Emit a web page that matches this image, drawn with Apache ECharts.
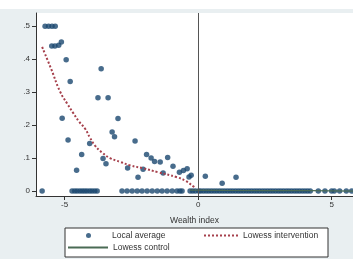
<!DOCTYPE html>
<html>
<head>
<meta charset="utf-8">
<script src="https://cdn.jsdelivr.net/npm/echarts@6/dist/echarts.min.js"></script>
<style>
  html, body { margin: 0; padding: 0; background: #e9eff1; }
  #main { width: 353px; height: 259px; }
</style>
</head>
<body>
<div id="main"></div>
<script>
// local averages above zero (wealth index, share)
var avgX = [-5.73, -5.6, -5.47, -5.35, -5.48, -5.36, -5.22, -5.12, -4.94, -4.79, -3.63,
  -3.75, -3.37, -5.09, -3.0, -4.87, -4.36, -4.55, -4.06, -3.56, -3.45, -3.22, -3.13,
  -2.36, -2.64, -2.25, -2.06, -1.93, -1.76, -1.63, -1.42, -1.31, -1.14, -0.94, -0.7,
  -0.55, -0.41, -0.34, -0.26, 0.27, 0.9, 1.42];
var avgY = [0.5, 0.5, 0.5, 0.5, 0.44, 0.44, 0.442, 0.452, 0.398, 0.332, 0.371,
  0.283, 0.283, 0.221, 0.22, 0.155, 0.111, 0.063, 0.144, 0.099, 0.083, 0.179, 0.165,
  0.152, 0.07, 0.042, 0.066, 0.111, 0.1, 0.09, 0.088, 0.055, 0.102, 0.075, 0.057,
  0.062, 0.068, 0.043, 0.048, 0.045, 0.024, 0.042];

// local averages sitting on zero
var zeroX = [-5.84, -4.72, -4.62, -4.53, -4.43, -4.34, -4.25, -4.16, -4.06, -3.97, -3.87, -3.78,
  -2.85, -2.66, -2.47, -2.28, -2.1, -1.91, -1.72, -1.53, -1.35, -1.16, -0.97, -0.79, -0.68, -0.6,
  -0.3, -0.2, -0.1, 0.02, 0.1, 0.2, 0.3, 0.4, 0.5, 0.6, 0.7, 0.8, 0.9, 1.0, 1.1, 1.2, 1.3,
  1.4, 1.5, 1.6, 1.7, 1.8, 1.9, 2.0, 2.1, 2.2, 2.3, 2.4, 2.5, 2.6, 2.7, 2.8, 2.9, 3.0, 3.1,
  3.2, 3.3, 3.4, 3.5, 3.6, 3.7, 3.8, 3.9, 4.0, 4.1, 4.2, 4.5, 4.75, 5.0, 5.1, 5.3, 5.55, 5.75];

// lowess intervention curve
var lowIntX = [-5.84, -5.5, -5.17, -4.9, -4.68, -4.45, -4.23, -4.05, -3.86, -3.6, -3.3,
  -2.9, -2.55, -2.06, -1.5, -0.79, -0.45, -0.19, -0.1];
var lowIntY = [0.437, 0.37, 0.302, 0.265, 0.237, 0.21, 0.189, 0.162, 0.138, 0.117, 0.1,
  0.088, 0.078, 0.069, 0.057, 0.042, 0.03, 0.015, 0.01];

// lowess control curve
var lowCtlX = [-0.3, 1.0, 2.5, 4.2, 5.8];
var lowCtlY = [0.003, 0.002, 0.001, 0.001, 0.0];

var yTicks = [0, 0.1, 0.2, 0.3, 0.4, 0.5];
var xTicks = [-5, 0, 5];

var avgData = [];
for (var i = 0; i < avgX.length; i++) avgData.push([avgX[i], avgY[i]]);
for (var j = 0; j < zeroX.length; j++) avgData.push([zeroX[j], 0]);
var intData = lowIntX.map(function (x, k) { return [x, lowIntY[k]]; });
var ctlData = lowCtlX.map(function (x, k) { return [x, lowCtlY[k]]; });

var chartDom = document.getElementById('main');
var myChart = echarts.init(chartDom);
var option;
var font = '"Liberation Sans", Arial, sans-serif';
var legendText = { fontSize: 8.5, color: '#333', fontFamily: font };

option = {
  backgroundColor: '#e9eff1',
  animation: false,
  textStyle: { fontFamily: font },
  graphic: [
    { type: 'rect', shape: { x: 0, y: 0, width: 353, height: 9 }, style: { fill: '#fff' }, silent: true },
    { type: 'rect', shape: { x: 65, y: 228, width: 263, height: 29 }, style: { fill: '#fff', stroke: '#333', lineWidth: 1 }, silent: true, z: -1 }
  ],
  grid: { left: 36, top: 13, right: 0, bottom: 63, show: true, backgroundColor: '#fff', borderWidth: 0 },
  legend: [
    { data: [{ name: 'Local average', icon: 'circle' }], left: 86, top: 231, padding: 0, itemWidth: 5, itemHeight: 5,
      textStyle: Object.assign({ padding: [0, 0, 0, 16] }, legendText) },
    { data: ['Lowess intervention'], left: 203, top: 231, padding: 0, itemWidth: 34, itemHeight: 5,
      itemStyle: { opacity: 0 }, textStyle: legendText },
    { data: ['Lowess control'], left: 67, top: 243, padding: 0, itemWidth: 40, itemHeight: 5,
      itemStyle: { opacity: 0 }, textStyle: legendText }
  ],
  xAxis: {
    type: 'value', min: -6.07, max: 5.8,
    name: 'Wealth index', nameLocation: 'middle', nameGap: 20,
    nameTextStyle: { fontSize: 8.5, color: '#333' },
    splitLine: { show: false },
    axisLine: { onZero: false, lineStyle: { color: '#333', width: 1 } },
    axisTick: { customValues: xTicks, length: 4, lineStyle: { color: '#333' } },
    axisLabel: { customValues: xTicks, fontSize: 8, color: '#333', margin: 5 }
  },
  yAxis: {
    type: 'value', min: -0.015, max: 0.54,
    splitLine: { show: false },
    axisLine: { show: true, onZero: false, lineStyle: { color: '#333', width: 1 } },
    axisTick: { show: true, customValues: yTicks, length: 4, lineStyle: { color: '#333' } },
    axisLabel: {
      customValues: yTicks, fontSize: 8, color: '#333', margin: 6,
      formatter: function (v) { return v === 0 ? '0' : String(v).replace('0.', '.'); }
    }
  },
  series: [
    {
      name: 'Local average', type: 'scatter', data: avgData, symbolSize: 5.5,
      itemStyle: { color: '#1a476f' },
      markLine: {
        silent: true, symbol: 'none', label: { show: false },
        lineStyle: { color: '#555', width: 1, type: 'solid' },
        data: [{ xAxis: 0 }]
      }
    },
    {
      name: 'Lowess intervention', type: 'line', data: intData, symbol: 'none', smooth: true,
      lineStyle: { color: '#a6404c', width: 2, type: [2, 2] }, itemStyle: { color: '#a6404c' }
    },
    {
      name: 'Lowess control', type: 'line', data: ctlData, symbol: 'none',
      lineStyle: { color: '#4a6b55', width: 1.2 }, itemStyle: { color: '#4a6b55' }
    }
  ]
};

option && myChart.setOption(option);
</script>
</body>
</html>
